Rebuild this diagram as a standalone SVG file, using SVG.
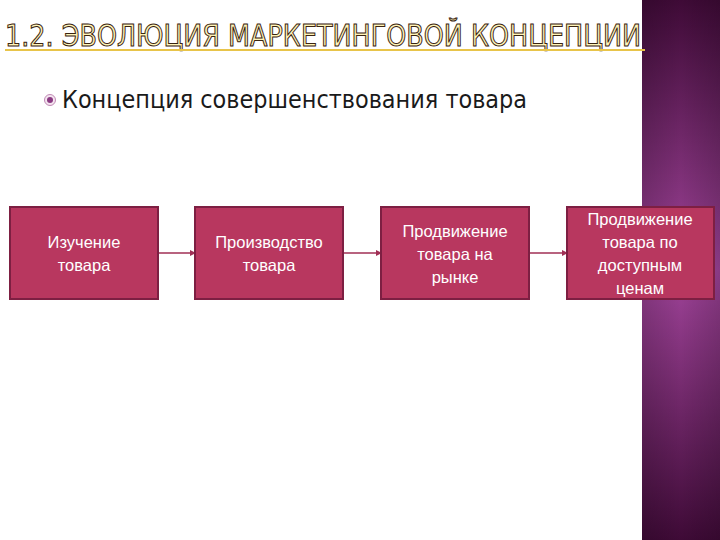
<svg xmlns="http://www.w3.org/2000/svg" width="720" height="540" viewBox="0 0 720 540">
<defs>
<linearGradient id="band" x1="0" y1="0" x2="0" y2="1">
<stop offset="0" stop-color="#3e0a36"/>
<stop offset="0.5" stop-color="#a0449a"/>
<stop offset="1" stop-color="#3e0a36"/>
</linearGradient>
<linearGradient id="bandH" x1="0" y1="0" x2="1" y2="0">
<stop offset="0" stop-color="#000" stop-opacity="0.15"/>
<stop offset="0.5" stop-color="#000" stop-opacity="0"/>
<stop offset="1" stop-color="#000" stop-opacity="0.15"/>
</linearGradient>
<marker id="arr" markerWidth="6" markerHeight="6" refX="5" refY="3" orient="auto" markerUnits="userSpaceOnUse">
<path d="M0,0 L6,3 L0,6 z" fill="#a02f55"/>
</marker>
</defs>
<style>
.box{fill:#b8375f;stroke:#7d1f42;stroke-width:2}
.bt{font-family:"Liberation Sans",Arial,sans-serif;font-size:16.5px;fill:#ffffff;text-anchor:middle}
.conn{stroke:#a02f55;stroke-width:1.5;fill:none}
</style>
<rect width="720" height="540" fill="#ffffff"/>
<rect x="642" y="0" width="78" height="540" fill="url(#band)"/>
<rect x="642" y="0" width="78" height="540" fill="url(#bandH)"/>
<g id="title">
<text x="5" y="46" font-family="DejaVu Sans Condensed,'Liberation Sans Narrow',sans-serif" font-size="30" textLength="636" lengthAdjust="spacingAndGlyphs" fill="#fff4b8" stroke="#3a2410" stroke-width="1">1.2. ЭВОЛЮЦИЯ МАРКЕТИНГОВОЙ КОНЦЕПЦИИ</text>
<line x1="5" y1="50" x2="645" y2="50" stroke="#e8c44a" stroke-width="2"/>
</g>
<g id="bullet">
<circle cx="50" cy="100" r="5.5" fill="#f4e4ef" stroke="#c08ab5" stroke-width="1"/>
<circle cx="50" cy="100" r="3" fill="#8a3a82"/>
<text x="62" y="108" font-family="DejaVu Sans,sans-serif" font-size="24" textLength="465" lengthAdjust="spacingAndGlyphs" fill="#1a1a1a">Концепция совершенствования товара</text>
</g>
<g id="connectors">
<line class="conn" x1="158" y1="253" x2="195" y2="253" marker-end="url(#arr)"/>
<line class="conn" x1="343" y1="253" x2="381" y2="253" marker-end="url(#arr)"/>
<line class="conn" x1="529" y1="253" x2="567" y2="253" marker-end="url(#arr)"/>
</g>
<g id="node1">
<rect class="box" x="10" y="207" width="148" height="92"/>
<text class="bt" x="84" y="248">Изучение</text>
<text class="bt" x="84" y="271">товара</text>
</g>
<g id="node2">
<rect class="box" x="195" y="207" width="148" height="92"/>
<text class="bt" x="269" y="248">Производство</text>
<text class="bt" x="269" y="271">товара</text>
</g>
<g id="node3">
<rect class="box" x="381" y="207" width="148" height="92"/>
<text class="bt" x="455" y="237">Продвижение</text>
<text class="bt" x="455" y="260">товара на</text>
<text class="bt" x="455" y="283">рынке</text>
</g>
<g id="node4">
<rect class="box" x="567" y="207" width="147" height="92"/>
<text class="bt" x="640" y="225">Продвижение</text>
<text class="bt" x="640" y="248">товара по</text>
<text class="bt" x="640" y="271">доступным</text>
<text class="bt" x="640" y="294">ценам</text>
</g>
</svg>
